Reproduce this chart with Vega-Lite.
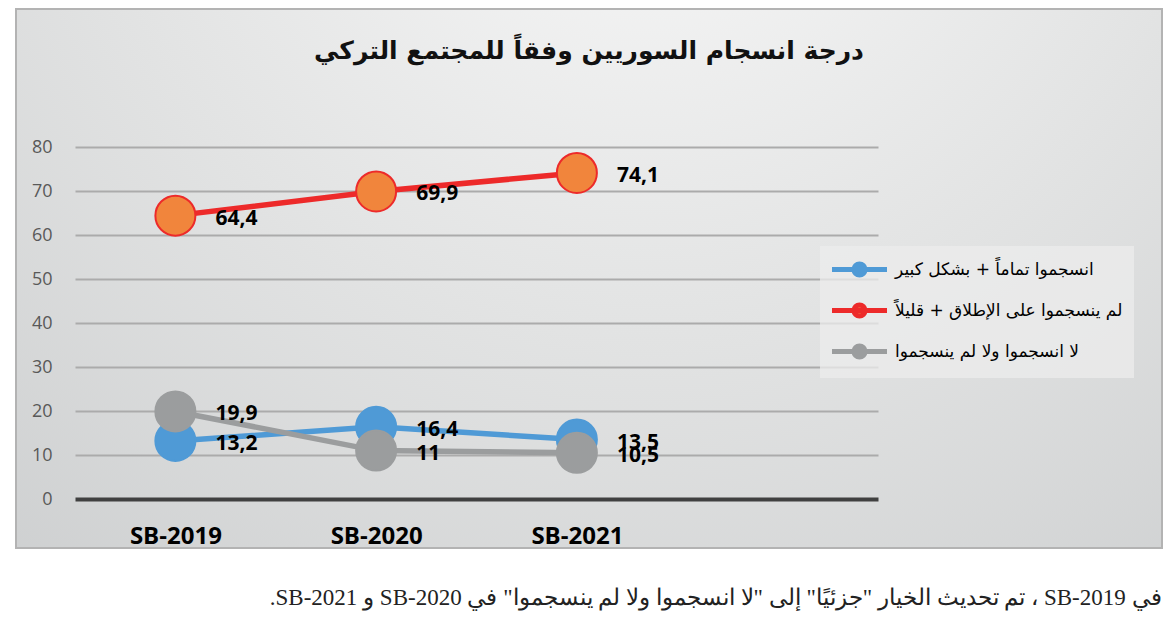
{
  "$schema": "https://vega.github.io/schema/vega-lite/v6.json",
  "width": 1146,
  "height": 539,
  "padding": {"left": 16, "top": 9, "right": 9, "bottom": 88},
  "autosize": {"type": "none"},
  "background": "white",
  "title": {
    "text": "درجة انسجام السوريين وفقاً للمجتمع التركي",
    "anchor": "middle",
    "frame": "group",
    "baseline": "middle",
    "offset": -67,
    "font": "DejaVu Sans",
    "fontSize": 25,
    "fontWeight": "bold",
    "color": "#111111"
  },
  "data": {
    "values": [
      {"year": "SB-2019", "series": "انسجموا تماماً + بشكل كبير", "value": 13.2},
      {"year": "SB-2020", "series": "انسجموا تماماً + بشكل كبير", "value": 16.4},
      {"year": "SB-2021", "series": "انسجموا تماماً + بشكل كبير", "value": 13.5},
      {"year": "SB-2019", "series": "لم ينسجموا على الإطلاق + قليلاً", "value": 64.4},
      {"year": "SB-2020", "series": "لم ينسجموا على الإطلاق + قليلاً", "value": 69.9},
      {"year": "SB-2021", "series": "لم ينسجموا على الإطلاق + قليلاً", "value": 74.1},
      {"year": "SB-2019", "series": "لا انسجموا ولا لم ينسجموا", "value": 19.9},
      {"year": "SB-2020", "series": "لا انسجموا ولا لم ينسجموا", "value": 11},
      {"year": "SB-2021", "series": "لا انسجموا ولا لم ينسجموا", "value": 10.5}
    ]
  },
  "encoding": {
    "x": {
      "field": "year",
      "type": "ordinal",
      "sort": ["SB-2019", "SB-2020", "SB-2021"],
      "scale": {"type": "point", "range": [59, 862], "padding": 1, "align": 0.25},
      "axis": {
        "orient": "bottom",
        "offset": -12,
        "domain": false,
        "ticks": false,
        "tickSize": 0,
        "labelPadding": 0,
        "labelBaseline": "middle",
        "labelAngle": 0,
        "labelFont": "Open Sans",
        "labelFontSize": 24,
        "labelFontWeight": "bold",
        "labelColor": "#000000",
        "grid": false,
        "title": "\u202Bفي SB-2019 ، تم تحديث الخيار \"جزئيًا\" إلى \"لا انسجموا ولا لم ينسجموا\" في SB-2020 و SB-2021.\u202C",
        "titleX": 1145,
        "titleY": 61,
        "titleAlign": "right",
        "titleAnchor": null,
        "titleBaseline": "middle",
        "titleAngle": 0,
        "titleFont": "Liberation Serif",
        "titleFontSize": 23,
        "titleFontWeight": "normal",
        "titleColor": "#222222"
      }
    },
    "y": {
      "field": "value",
      "type": "quantitative",
      "scale": {"domain": [0, 80], "range": [490, 138], "nice": false, "zero": true},
      "axis": {
        "orient": "left",
        "offset": -36,
        "values": [0, 10, 20, 30, 40, 50, 60, 70, 80],
        "domain": false,
        "ticks": false,
        "tickSize": 0,
        "labelPadding": 0,
        "labelFont": "Open Sans",
        "labelFontSize": 18,
        "labelColor": "#595959",
        "grid": true,
        "gridColor": {"condition": {"test": "datum.value === 0", "value": "#404040"}, "value": "#ababab"},
        "gridWidth": {"condition": {"test": "datum.value === 0", "value": 4}, "value": 2},
        "title": null
      }
    }
  },
  "layer": [
    {
      "mark": {"type": "line", "strokeWidth": 5.5, "strokeCap": "round"},
      "encoding": {
        "stroke": {
          "field": "series",
          "type": "nominal",
          "scale": {
            "domain": ["انسجموا تماماً + بشكل كبير", "لم ينسجموا على الإطلاق + قليلاً", "لا انسجموا ولا لم ينسجموا"],
            "range": ["#4f9ad6", "#ed2a2a", "#9b9d9e"]
          },
          "legend": {
            "title": null,
            "orient": "none",
            "legendX": 804,
            "legendY": 237,
            "padding": 11,
            "fillColor": "rgba(236,236,236,0.75)",
            "symbolType": "M-2.75,0L2.75,0M-0.55,0A0.55,0.55 0 1,0 0.55,0A0.55,0.55 0 1,0 -0.55,0Z",
            "symbolSize": 400,
            "symbolStrokeWidth": 5,
            "symbolOffset": 16,
            "labelOffset": 23,
            "labelFont": "DejaVu Sans",
            "labelFontSize": 17,
            "labelColor": "#000000",
            "labelLimit": 400,
            "rowPadding": 10
          }
        }
      }
    },
    {
      "mark": {"type": "point", "filled": true, "size": 1600, "strokeWidth": 2, "opacity": 1, "strokeOpacity": 1, "fillOpacity": 1},
      "encoding": {
        "fill": {
          "field": "series",
          "type": "nominal",
          "scale": {
            "domain": ["انسجموا تماماً + بشكل كبير", "لم ينسجموا على الإطلاق + قليلاً", "لا انسجموا ولا لم ينسجموا"],
            "range": ["#4f9ad6", "#f1853c", "#9b9d9e"]
          },
          "legend": null
        },
        "stroke": {"field": "series", "type": "nominal"}
      }
    },
    {
      "mark": {"type": "text", "align": "left", "baseline": "middle", "dx": 40, "dy": 3, "font": "Open Sans", "fontSize": 21, "fontWeight": "bold", "color": "#000000"},
      "encoding": {
        "text": {"field": "value", "type": "quantitative", "format": ".3~r"}
      }
    }
  ],
  "config": {
    "locale": {"number": {"decimal": ",", "thousands": ".", "grouping": [3], "currency": ["", ""]}},
    "view": {
      "stroke": "#b3b3b3",
      "strokeWidth": 2,
      "fill": {
        "gradient": "radial",
        "x1": 0.55, "y1": 0.05, "r1": 0,
        "x2": 0.55, "y2": 0.05, "r2": 1,
        "stops": [
          {"offset": 0, "color": "#fbfbfb"},
          {"offset": 0.5, "color": "#e2e3e3"},
          {"offset": 1, "color": "#c9cbcc"}
        ]
      }
    }
  }
}
